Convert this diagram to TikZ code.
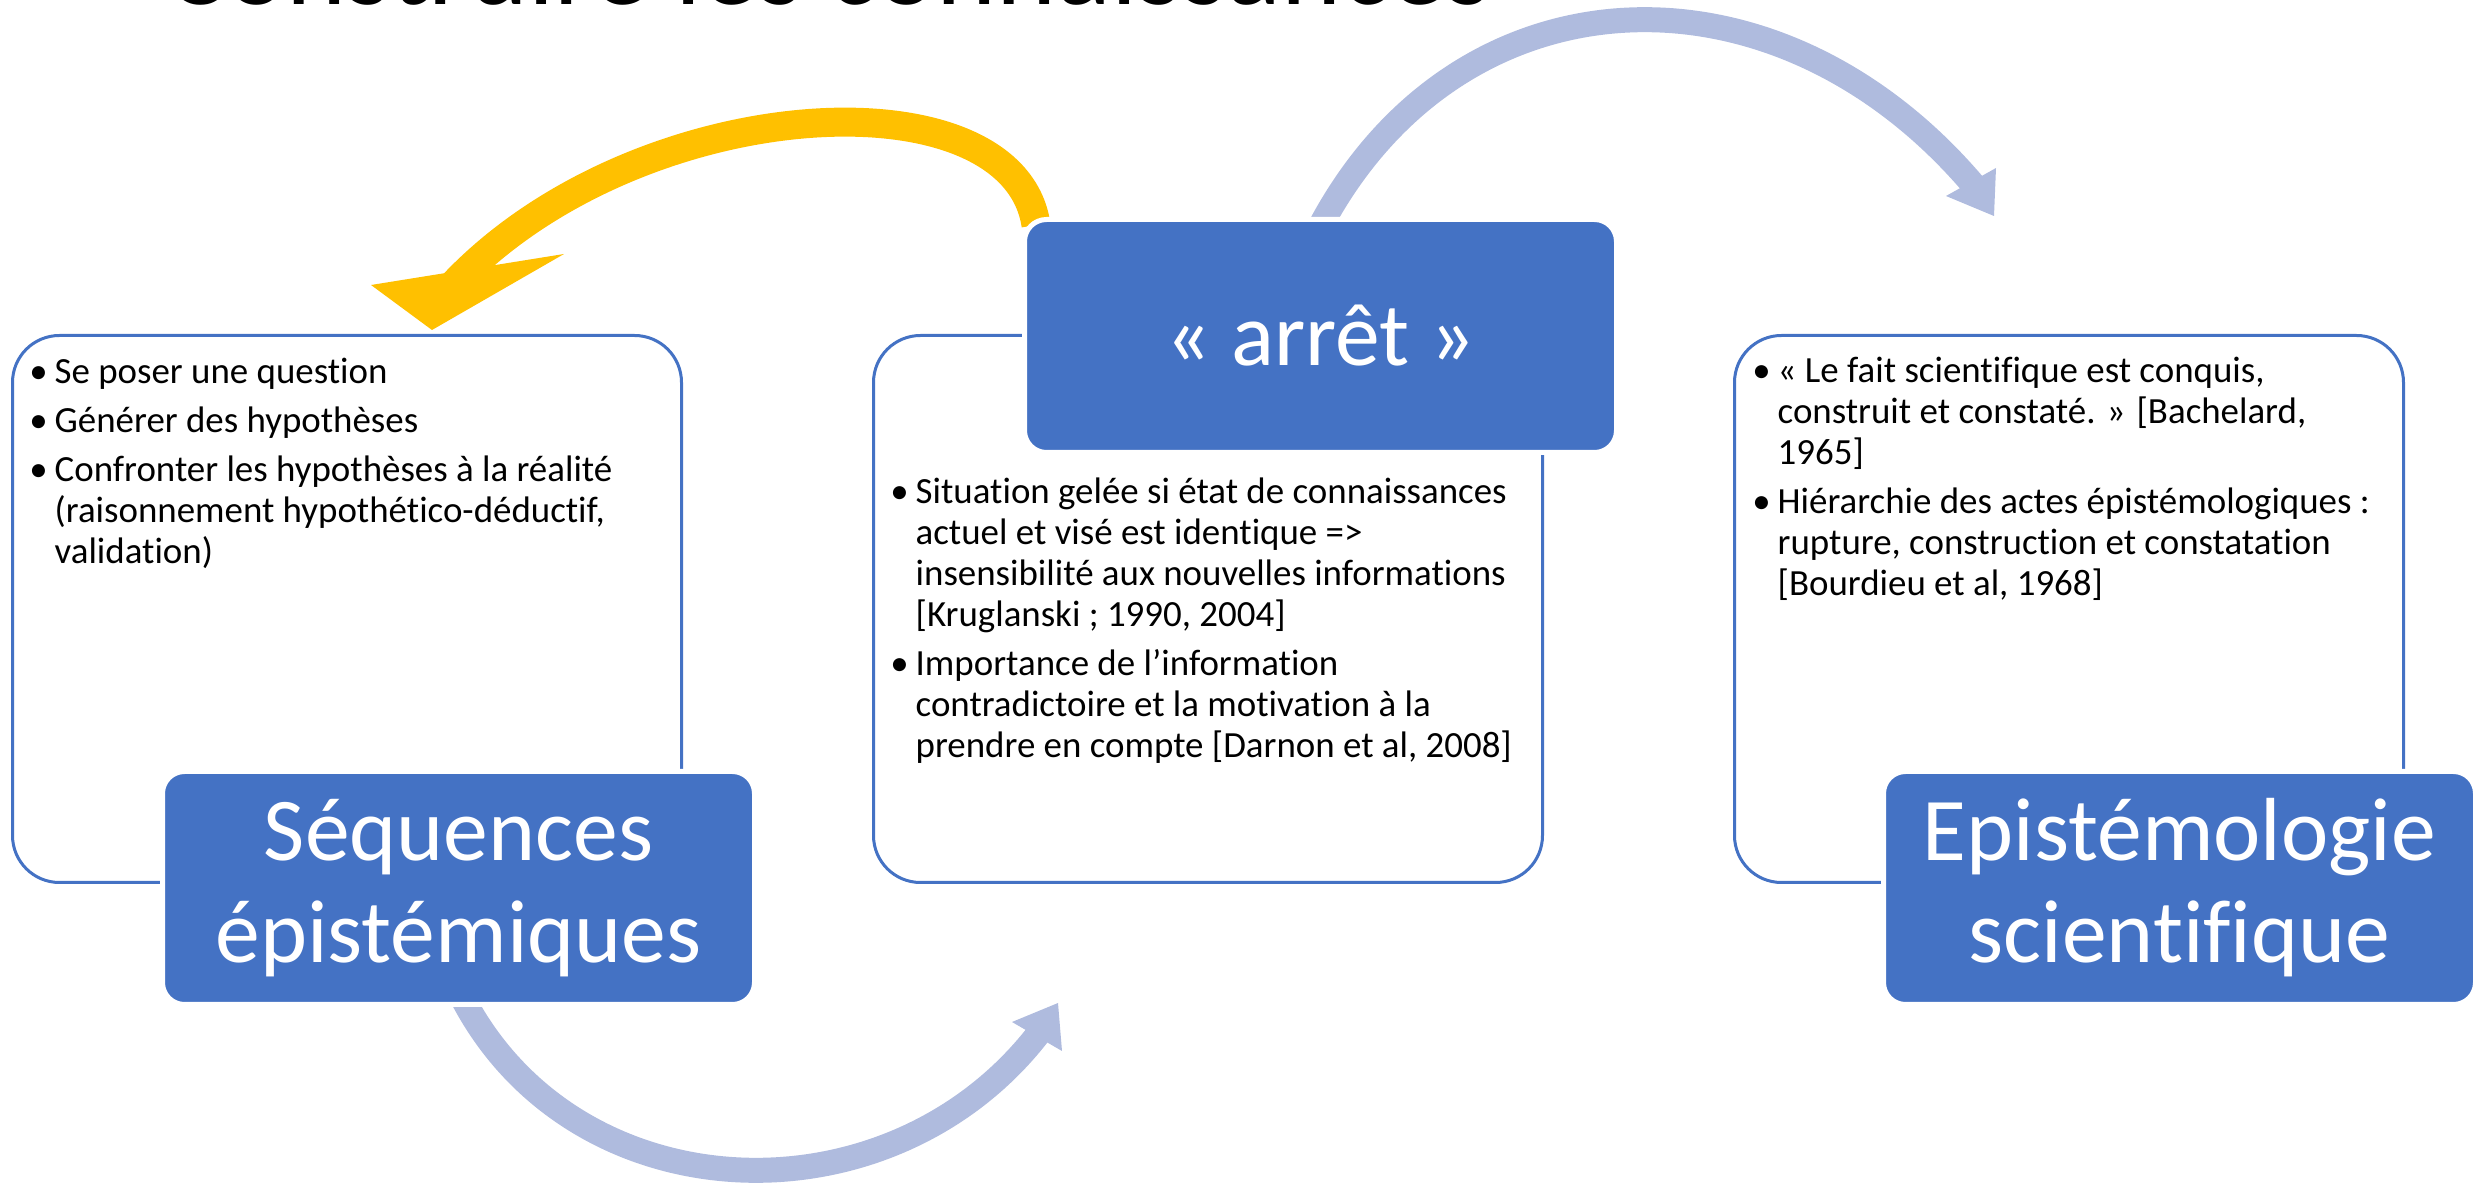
\documentclass[tikz,border=0pt]{standalone}
\usepackage{fontspec}
\setmainfont{Carlito}[Ligatures=CommonOff]
\usetikzlibrary{positioning,calc}
\definecolor{boxblue}{RGB}{68,114,196}
\definecolor{arrowgrey}{RGB}{175,187,222}
\definecolor{arrowgold}{RGB}{255,192,0}
\tikzstyle{whitebox} = [draw=boxblue,line width=0.3mm,fill=white,rounded corners=4.7mm,minimum width=6.69cm,minimum height=5.47cm,anchor=north west,inner sep=0pt]
\tikzstyle{bluebox} = [draw=white,line width=0.5mm,fill=boxblue,rounded corners=2.2mm,minimum width=5.92cm,minimum height=2.33cm,anchor=north west,text=white,align=center,font=\fontsize{25.5}{29}\selectfont]
\tikzstyle{bullets} = [anchor=north west,inner sep=0pt,align=left,font=\fontsize{10.5}{11.66}\selectfont]
\tikzstyle{band} = [line width=2.5mm,draw=arrowgrey]
\newcommand{\itm}{\strut\llap{\textbullet\hspace{2pt}}}

\begin{document}
\begin{tikzpicture}
    \useasboundingbox (0,0) rectangle (24.81,-11.87);
    \node [anchor=base west,inner sep=0pt,font=\fontsize{32.5}{40}\selectfont] (title) at (1.65,-0.05) {Construire les connaissances};

    % the three text boxes
    \node [whitebox] (seqbox) at (0.11,-3.34) {};
    \node [whitebox] (arretbox) at (8.72,-3.34) {};
    \node [whitebox] (epibox) at (17.33,-3.34) {};

    \node [bullets] (seqtext) at (0.54,-3.54) {\itm Se poser une question\\[2.3pt]
      \itm Générer des hypothèses\\[2.3pt]
      \itm Confronter les hypothèses à la réalité\\
      (raisonnement hypothético-déductif,\\
      validation)};
    \node [bullets] (arrettext) at (9.15,-4.74) {\itm Situation gelée si état de connaissances\\
      actuel et visé est identique =>\\
      insensibilité aux nouvelles informations\\
      {[}Kruglanski ; 1990, 2004{]}\\[2.3pt]
      \itm Importance de l’information\\
      contradictoire et la motivation à la\\
      prendre en compte [Darnon et al, 2008]};
    \node [bullets] (epitext) at (17.77,-3.53) {\itm « Le fait scientifique est conquis,\\
      construit et constaté. » [Bachelard,\\
      1965]\\[2.3pt]
      \itm Hiérarchie des actes épistémologiques :\\
      rupture, construction et constatation\\
      {[}Bourdieu et al, 1968{]}};

    % curved arrows
    \coordinate (ya) at (10.36,-2.25);
    \coordinate (yb) at (4.52,-2.86);
    \draw [line width=2.9mm,arrowgold] (ya) .. controls (10.13,-0.70) and (6.36,-0.90) .. (yb);
    \fill [arrowgold] (3.71,-2.85) -- (5.64,-2.54) -- (4.32,-3.30) -- cycle;

    \coordinate (ta) at (13.21,-2.25);
    \coordinate (tb) at (19.76,-1.88);
    \draw [band] (ta) .. controls (14.61,0.36) and (17.78,0.48) .. (tb);
    \fill [arrowgrey] (19.96,-1.68) -- (19.46,-1.96) -- (19.94,-2.16) -- cycle;

    \coordinate (ba) at (4.61,-9.95);
    \coordinate (bb) at (10.42,-10.29);
    \draw [band] (ba) .. controls (5.74,-12.17) and (8.93,-12.28) .. (bb);
    \fill [arrowgrey] (10.58,-10.03) -- (10.12,-10.22) -- (10.62,-10.51) -- cycle;

    % title boxes
    \node [bluebox] (seq) at (1.60,-7.69) {Séquences\\épistémiques};
    \node [bluebox] (arret) at (10.22,-2.17) {«~arrêt~»};
    \node [bluebox] (epi) at (18.81,-7.69) {Epistémologie\\scientifique};
\end{tikzpicture}
\end{document}
